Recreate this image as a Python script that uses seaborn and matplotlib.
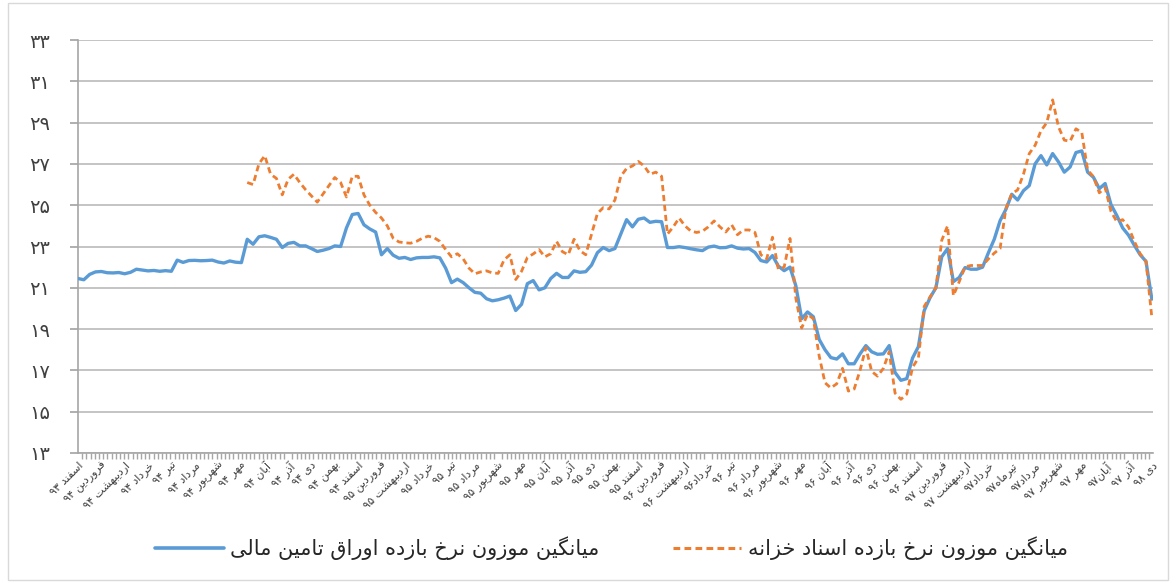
import numpy as np
import pandas as pd
import seaborn as sns
import matplotlib
matplotlib.use("Agg")
import matplotlib.pyplot as plt
from matplotlib.lines import Line2D
from matplotlib.patches import Rectangle
from matplotlib.ticker import MultipleLocator

nan = np.nan

month_labels = ['اسفند ۹۳', 'فروردین ۹۴', 'اردیبهشت ۹۴', 'خرداد ۹۴', 'تیر ۹۴', 'مرداد ۹۴',
                'شهریور ۹۴', 'مهر ۹۴', 'آبان ۹۴', 'آذر ۹۴', 'دی ۹۴', 'بهمن ۹۴', 'اسفند ۹۴',
                'فروردین ۹۵', 'اردیبهشت ۹۵', 'خرداد ۹۵', 'تیر ۹۵', 'مرداد ۹۵', 'شهریور ۹۵',
                'مهر ۹۵', 'آبان ۹۵', 'آذر ۹۵', 'دی ۹۵', 'بهمن ۹۵', 'اسفند ۹۵', 'فروردین ۹۶',
                'اردیبهشت ۹۶', 'خرداد۹۶', 'تیر ۹۶', 'مرداد ۹۶', 'شهریور ۹۶', 'مهر ۹۶',
                'آبان ۹۶', 'آذر ۹۶', 'دی ۹۶', 'بهمن ۹۶', 'اسفند ۹۶', 'فروردین ۹۷',
                'اردیبهشت ۹۷', 'خرداد۹۷', 'تیرماه۹۷', 'مرداد۹۷', 'شهریور ۹۷', 'مهر ۹۷',
                'آبان۹۷', 'آذر ۹۷', 'دی ۹۸']

series_blue_name = 'میانگین موزون نرخ بازده اوراق تامین مالی'
series_orange_name = 'میانگین موزون نرخ بازده اسناد خزانه'

blue_values = [
    21.45, 21.39, 21.65, 21.77, 21.79, 21.73, 21.72, 21.74, 21.68, 21.75,
    21.9, 21.86, 21.82, 21.84, 21.8, 21.83, 21.8, 22.34, 22.23, 22.32,
    22.33, 22.31, 22.32, 22.34, 22.25, 22.2, 22.3, 22.24, 22.22, 23.35,
    23.11, 23.47, 23.52, 23.44, 23.35, 22.95, 23.15, 23.2, 23.03, 23.03,
    22.9, 22.76, 22.82, 22.9, 23.03, 23.0, 23.9, 24.55, 24.6, 24.05,
    23.85, 23.7, 22.6, 22.9, 22.58, 22.43, 22.47, 22.37, 22.45, 22.47,
    22.47, 22.5, 22.45, 21.95, 21.25, 21.42, 21.25, 21.0, 20.78, 20.74,
    20.47, 20.37, 20.42, 20.5, 20.6, 19.9, 20.2, 21.2, 21.35, 20.9,
    21.0, 21.45, 21.7, 21.5, 21.5, 21.82, 21.75, 21.78, 22.1, 22.7,
    22.95, 22.8, 22.9, 23.6, 24.3, 23.95, 24.32, 24.38, 24.17, 24.22,
    24.2, 22.95, 22.95, 22.99, 22.95, 22.89, 22.84, 22.8, 22.97, 23.02,
    22.94, 22.95, 23.03, 22.92, 22.88, 22.9, 22.71, 22.32, 22.25, 22.56,
    22.05, 21.83, 22.0, 21.1, 19.5, 19.83, 19.6, 18.5, 18.0, 17.62,
    17.55, 17.8, 17.32, 17.32, 17.8, 18.2, 17.9, 17.78, 17.8, 18.2,
    16.9, 16.52, 16.6, 17.6, 18.15, 19.9, 20.52, 21.0, 22.5, 22.9,
    21.3, 21.5, 21.98, 21.9, 21.9, 22.0, 22.7, 23.35, 24.25, 24.8,
    25.53, 25.25, 25.7, 25.95, 27.0, 27.4, 26.95, 27.5, 27.1, 26.6,
    26.85, 27.55, 27.63, 26.6, 26.35, 25.8, 26.05, 25.03, 24.5, 23.9,
    23.55, 23.06, 22.6, 22.28, 20.45,
]

orange_values = [nan] * 29 + [
    26.1, 26.0, 27.0, 27.4, 26.5, 26.3, 25.5, 26.25, 26.5, 26.1,
    25.75, 25.45, 25.15, 25.55, 25.95, 26.34, 26.1, 25.4, 26.4, 26.4,
    25.5, 25.0, 24.65, 24.38, 24.0, 23.4, 23.22, 23.18, 23.16, 23.25,
    23.4, 23.5, 23.43, 23.25, 22.85, 22.5, 22.65, 22.4, 21.95, 21.68,
    21.77, 21.82, 21.72, 21.7, 22.35, 22.6, 21.4, 21.8, 22.47, 22.64,
    22.85, 22.5, 22.65, 23.25, 22.75, 22.6, 23.35, 22.8, 22.6, 23.6,
    24.6, 24.88, 24.82, 25.25, 26.4, 26.78, 26.9, 27.12, 26.9, 26.5,
    26.6, 26.4, 23.6, 23.95, 24.38, 24.0, 23.75, 23.68, 23.74, 23.95,
    24.24, 23.95, 23.7, 24.05, 23.57, 23.8, 23.8, 23.68, 22.6, 22.4,
    23.45, 21.9, 22.0, 23.39, 20.5, 19.05, 19.72, 19.5, 17.7, 16.4,
    16.15, 16.35, 17.1, 16.0, 16.1, 17.0, 18.1, 16.95, 16.72, 17.1,
    17.9, 15.9, 15.6, 15.85, 17.15, 17.6, 20.1, 20.56, 21.0, 23.3,
    24.0, 20.62, 21.3, 22.02, 22.08, 22.08, 22.08, 22.4, 22.68, 22.9,
    24.85, 25.55, 25.74, 26.5, 27.5, 27.9, 28.6, 29.0, 30.1, 28.8,
    28.15, 28.1, 28.7, 28.52, 26.7, 26.38, 25.6, 25.85, 24.7, 24.2,
    24.3, 23.95, 23.25, 22.65, 22.28, 19.56,
]

y_ticks = [13, 15, 17, 19, 21, 23, 25, 27, 29, 31, 33]
points_per_label = 4

# ---------- minimal Arabic/Persian shaping + RTL ordering ----------
FORMS = {
    'ا': ('\uFE8D', '\uFE8E', None, None),
    'آ': ('\uFE81', '\uFE82', None, None),
    'ب': ('\uFE8F', '\uFE90', '\uFE91', '\uFE92'),
    'ت': ('\uFE95', '\uFE96', '\uFE97', '\uFE98'),
    'خ': ('\uFEA5', '\uFEA6', '\uFEA7', '\uFEA8'),
    'د': ('\uFEA9', '\uFEAA', None, None),
    'ذ': ('\uFEAB', '\uFEAC', None, None),
    'ر': ('\uFEAD', '\uFEAE', None, None),
    'ز': ('\uFEAF', '\uFEB0', None, None),
    'س': ('\uFEB1', '\uFEB2', '\uFEB3', '\uFEB4'),
    'ش': ('\uFEB5', '\uFEB6', '\uFEB7', '\uFEB8'),
    'ف': ('\uFED1', '\uFED2', '\uFED3', '\uFED4'),
    'ق': ('\uFED5', '\uFED6', '\uFED7', '\uFED8'),
    'ل': ('\uFEDD', '\uFEDE', '\uFEDF', '\uFEE0'),
    'م': ('\uFEE1', '\uFEE2', '\uFEE3', '\uFEE4'),
    'ن': ('\uFEE5', '\uFEE6', '\uFEE7', '\uFEE8'),
    'ه': ('\uFEE9', '\uFEEA', '\uFEEB', '\uFEEC'),
    'و': ('\uFEED', '\uFEEE', None, None),
    '\u06CC': ('\uFBFC', '\uFBFD', '\uFBFE', '\uFBFF'),
    '\u064A': ('\uFBFC', '\uFBFD', '\uFBFE', '\uFBFF'),
    'گ': ('\uFB92', '\uFB93', '\uFB94', '\uFB95'),
}


def _fwd(c):
    return c in FORMS and FORMS[c][2] is not None


def shape(s):
    out = []
    for i, c in enumerate(s):
        if c not in FORMS:
            out.append(c)
            continue
        p = i > 0 and _fwd(s[i - 1])
        n = i < len(s) - 1 and s[i + 1] in FORMS and _fwd(c)
        f = FORMS[c]
        if p and n:
            out.append(f[3])
        elif p:
            out.append(f[1])
        elif n:
            out.append(f[2])
        else:
            out.append(f[0])
    return ''.join(out)


DIGITS = set('۰۱۲۳۴۵۶۷۸۹0123456789')


def rtl(s):
    s = shape(s)
    tokens, cur, cur_d = [], '', None
    for c in s:
        d = c in DIGITS
        if cur and d != cur_d:
            tokens.append((cur, cur_d))
            cur = ''
        cur += c
        cur_d = d
    if cur:
        tokens.append((cur, cur_d))
    tokens.reverse()
    return ''.join(t if d else t[::-1] for t, d in tokens)


def fa_num(v):
    return str(v).translate(str.maketrans('0123456789', '۰۱۲۳۴۵۶۷۸۹'))


# ---------- data frame ----------
n = len(blue_values)
df = pd.DataFrame({'idx': np.arange(n), 'blue': blue_values, 'orange': orange_values})

sns.set_theme(style='white')
plt.rcParams['font.family'] = ['DejaVu Sans']

W, H = 1176, 583
fig = plt.figure(figsize=(W / 100, H / 100), dpi=100)
ax = fig.add_axes([78 / W, 1 - 453 / H, (1153 - 78) / W, (453 - 40) / H])

BLUE = '#5B9BD5'
ORANGE = '#ED7D31'

sns.lineplot(data=df, x='idx', y='blue', ax=ax, color=BLUE, lw=2.4,
             estimator=None, sort=False, zorder=3)
sns.lineplot(data=df.dropna(), x='idx', y='orange', ax=ax, color=ORANGE, lw=2.0,
             linestyle=(0, (2.2, 1.4)), estimator=None, sort=False, zorder=4)

ax.set_xlim(0, n - 1 + 0.2)
ax.set_ylim(13, 33)
ax.set_xlabel('')
ax.set_ylabel('')

ax.set_yticks(y_ticks)
ax.set_yticklabels([fa_num(t) for t in y_ticks], fontsize=14, color='#404040')
ax.yaxis.grid(True, color='#BFBFBF', lw=1.3)
ax.xaxis.grid(False)
ax.set_axisbelow(True)

label_pos = [i * points_per_label for i in range(len(month_labels))]
ax.set_xticks(label_pos)
ax.set_xticklabels([rtl(m) for m in month_labels], rotation=45, ha='right',
                   va='top', rotation_mode='anchor', fontsize=8, color='#404040')
ax.xaxis.set_minor_locator(MultipleLocator(0.72))
ax.tick_params(axis='x', which='both', length=4, color='#A6A6A6', direction='out',
               pad=5, bottom=True)
ax.tick_params(axis='x', which='major', length=0)
ax.tick_params(axis='y', which='major', length=6, color='#A6A6A6', direction='out',
               pad=14, left=True)

for side in ['top', 'right']:
    ax.spines[side].set_visible(False)
ax.spines['left'].set_color('#A6A6A6')
ax.spines['bottom'].set_color('#A6A6A6')
ax.spines['left'].set_linewidth(1.2)
ax.spines['bottom'].set_linewidth(1.2)

handles = [Line2D([], [], color=BLUE, lw=2.6),
           Line2D([], [], color=ORANGE, lw=2.2, linestyle=(0, (2.2, 1.4)))]
fig.legend(handles, [rtl(series_blue_name), rtl(series_orange_name)],
           loc='center', bbox_to_anchor=(0.52, 0.06), ncol=2, frameon=False,
           fontsize=15, handlelength=3.3, handletextpad=0.3, columnspacing=3.5)

fig.patches.append(Rectangle((8 / W, 3 / H), (1168 - 8) / W, (580 - 3) / H,
                             transform=fig.transFigure, fill=False,
                             edgecolor='#D9D9D9', lw=1.0))

fig.savefig('out.png', dpi=100, facecolor='white')
